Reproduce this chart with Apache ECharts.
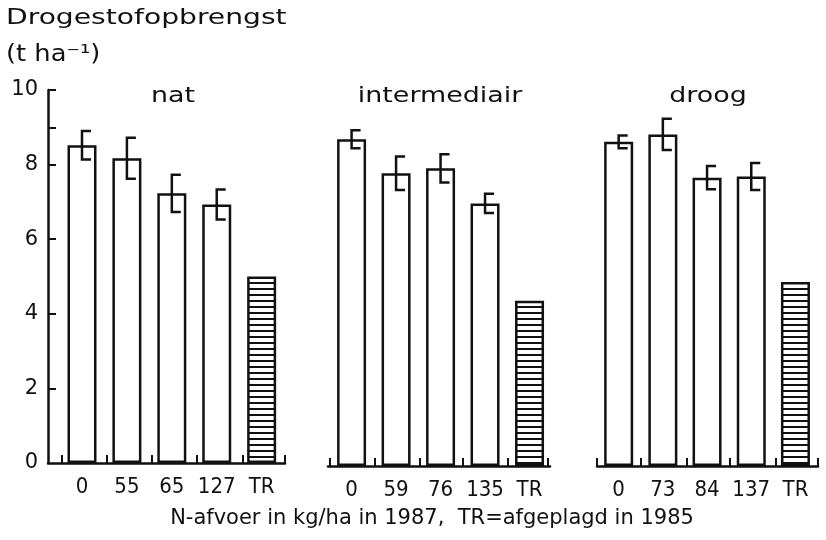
<!DOCTYPE html>
<html>
<head>
<meta charset="utf-8">
<script src="https://cdn.jsdelivr.net/npm/echarts@6/dist/echarts.min.js"></script>
<style>
  html, body { margin: 0; padding: 0; background: #fff; }
  #chart { width: 826px; height: 540px; }
</style>
</head>
<body>
<div id="chart"></div>
<script>
// Dry-matter yield per treatment (t/ha) at three moisture levels
const panelTitles = ['nat', 'intermediair', 'droog'];

const natLabels = ['0', '55', '65', '127', 'TR'];
const natValues = [8.52, 8.17, 7.23, 6.93, 5.0];
const natErrors = [0.38, 0.55, 0.5, 0.4];

const intLabels = ['0', '59', '76', '135', 'TR'];
const intValues = [8.76, 7.85, 7.98, 7.04, 4.43];
const intErrors = [0.24, 0.45, 0.38, 0.26];

const droLabels = ['0', '73', '84', '137', 'TR'];
const droValues = [8.69, 8.89, 7.73, 7.76, 4.93];
const droErrors = [0.17, 0.42, 0.31, 0.36];

const yTickLabels = [0, 2, 4, 6, 8, 10];

const labelSets = [natLabels, intLabels, droLabels];
const valueSets = [natValues, intValues, droValues];
const errorSets = [natErrors, intErrors, droErrors];

// panel geometry (pixels) and x-axis extents in bar-index units
const layout = [
  { left: 48,  width: 237, top: 90, min: -0.757, max: 4.52, ticks: [-0.45, 0.54, 1.56, 2.56, 3.58, 4.52] },
  { left: 328, width: 222, top: 93, min: -0.53,  max: 4.46, ticks: [-0.48, 0.53, 1.54, 2.5, 3.52, 4.42] },
  { left: 597, width: 221, top: 93, min: -0.49,  max: 4.51, ticks: [-0.49, 0.49, 1.53, 2.52, 3.56, 4.51] }
];
const plotHeight = 373;

const INK = '#111';
const FONT = "'DejaVu Sans', sans-serif";
const NARROW = "'Liberation Sans Narrow', 'DejaVu Sans Condensed', 'DejaVu Sans', sans-serif";
const WIDE = 1.28; // horizontal stretch of the lettering

// horizontal hatch used for the TR bars
function hatchPattern() {
  const c = document.createElement('canvas');
  c.width = 8; c.height = 6;
  const g = c.getContext('2d');
  g.fillStyle = '#fff'; g.fillRect(0, 0, 8, 6);
  g.fillStyle = INK; g.fillRect(0, 0, 8, 2);
  return { image: c, repeat: 'repeat' };
}
const hatch = hatchPattern();

const grids = [], xAxes = [], yAxes = [], series = [];

layout.forEach((L, p) => {
  grids.push({ left: L.left, width: L.width, top: L.top, height: plotHeight });
  const labels = labelSets[p];
  xAxes.push({
    gridIndex: p, type: 'value', min: L.min, max: L.max,
    axisLine: { show: true, onZero: false, lineStyle: { color: INK, width: 2.5 } },
    axisTick: { show: true, inside: true, length: 8, customValues: L.ticks, lineStyle: { color: INK, width: 2 } },
    axisLabel: {
      show: true, customValues: [0, 1, 2, 3, 4], margin: 13,
      formatter: v => labels[Math.round(v)],
      color: INK, fontFamily: NARROW, fontSize: 22
    },
    splitLine: { show: false }
  });
  yAxes.push({
    gridIndex: p, type: 'value', min: 0, max: 10, interval: 2, show: p === 0,
    axisLine: { show: true, onZero: false, lineStyle: { color: INK, width: 2.5 } },
    axisTick: { show: true, inside: true, length: 8, customValues: [2, 4, 6, 8, 9, 10], lineStyle: { color: INK, width: 2 } },
    axisLabel: {
      show: true, margin: 10, color: INK, fontFamily: FONT, fontSize: 21,
      customValues: yTickLabels
    },
    splitLine: { show: false }
  });

  const vals = valueSets[p];
  series.push({
    type: 'bar', xAxisIndex: p, yAxisIndex: p, barWidth: 29,
    silent: true, animation: false,
    itemStyle: { color: '#fff', borderColor: INK, borderWidth: 2.5 },
    data: vals.map((v, i) => (
      labels[i] === 'TR'
        ? { value: [i, v], itemStyle: { color: hatch, borderColor: INK, borderWidth: 2.5 } }
        : { value: [i, v] }
    ))
  });

  const errs = errorSets[p];
  series.push({
    type: 'custom', xAxisIndex: p, yAxisIndex: p, silent: true, animation: false, z: 5,
    data: errs.map((e, i) => [i, vals[i] - e, vals[i] + e]),
    renderItem: (params, api) => {
      const hi = api.coord([api.value(0), api.value(2)]);
      const lo = api.coord([api.value(0), api.value(1)]);
      const cap = 9;
      return {
        type: 'polyline',
        shape: { points: [[hi[0] + cap, hi[1]], [hi[0], hi[1]], [lo[0], lo[1]], [lo[0] + cap, lo[1]]] },
        style: { stroke: INK, lineWidth: 2.5, fill: null }
      };
    }
  });
});

// lettering: axis title, unit, panel headings and x-axis caption
const textBase = { fill: INK, fontFamily: "DejaVu Sans", fontWeight: 'normal' };
const titleCenters = [173, 440, 708];
const graphics = [
  { type: 'text', x: 6, y: 18, scaleX: WIDE, silent: true,
    style: Object.assign({}, textBase, { text: 'Drogestofopbrengst', fontSize: 22, align: 'left', verticalAlign: 'middle' }) },
  { type: 'text', x: 6, y: 55, scaleX: 1.12, silent: true,
    style: Object.assign({}, textBase, { text: '(t ha⁻¹)', fontSize: 23, align: 'left', verticalAlign: 'middle' }) },
  { type: 'text', x: 432, y: 519, silent: true,
    style: Object.assign({}, textBase, { text: 'N-afvoer in kg/ha in 1987,  TR=afgeplagd in 1985', fontSize: 21, align: 'center', verticalAlign: 'middle' }) }
];
panelTitles.forEach((t, p) => {
  graphics.push({ type: 'text', x: titleCenters[p], y: 97, scaleX: WIDE, silent: true,
    style: Object.assign({}, textBase, { text: t, fontSize: 21, align: 'center', verticalAlign: 'middle' }) });
});

const chart = echarts.init(document.getElementById('chart'), null, { renderer: 'canvas' });
chart.setOption({
  backgroundColor: '#fff',
  animation: false,
  graphic: graphics,
  grid: grids,
  xAxis: xAxes,
  yAxis: yAxes,
  series: series
});
</script>
</body>
</html>
